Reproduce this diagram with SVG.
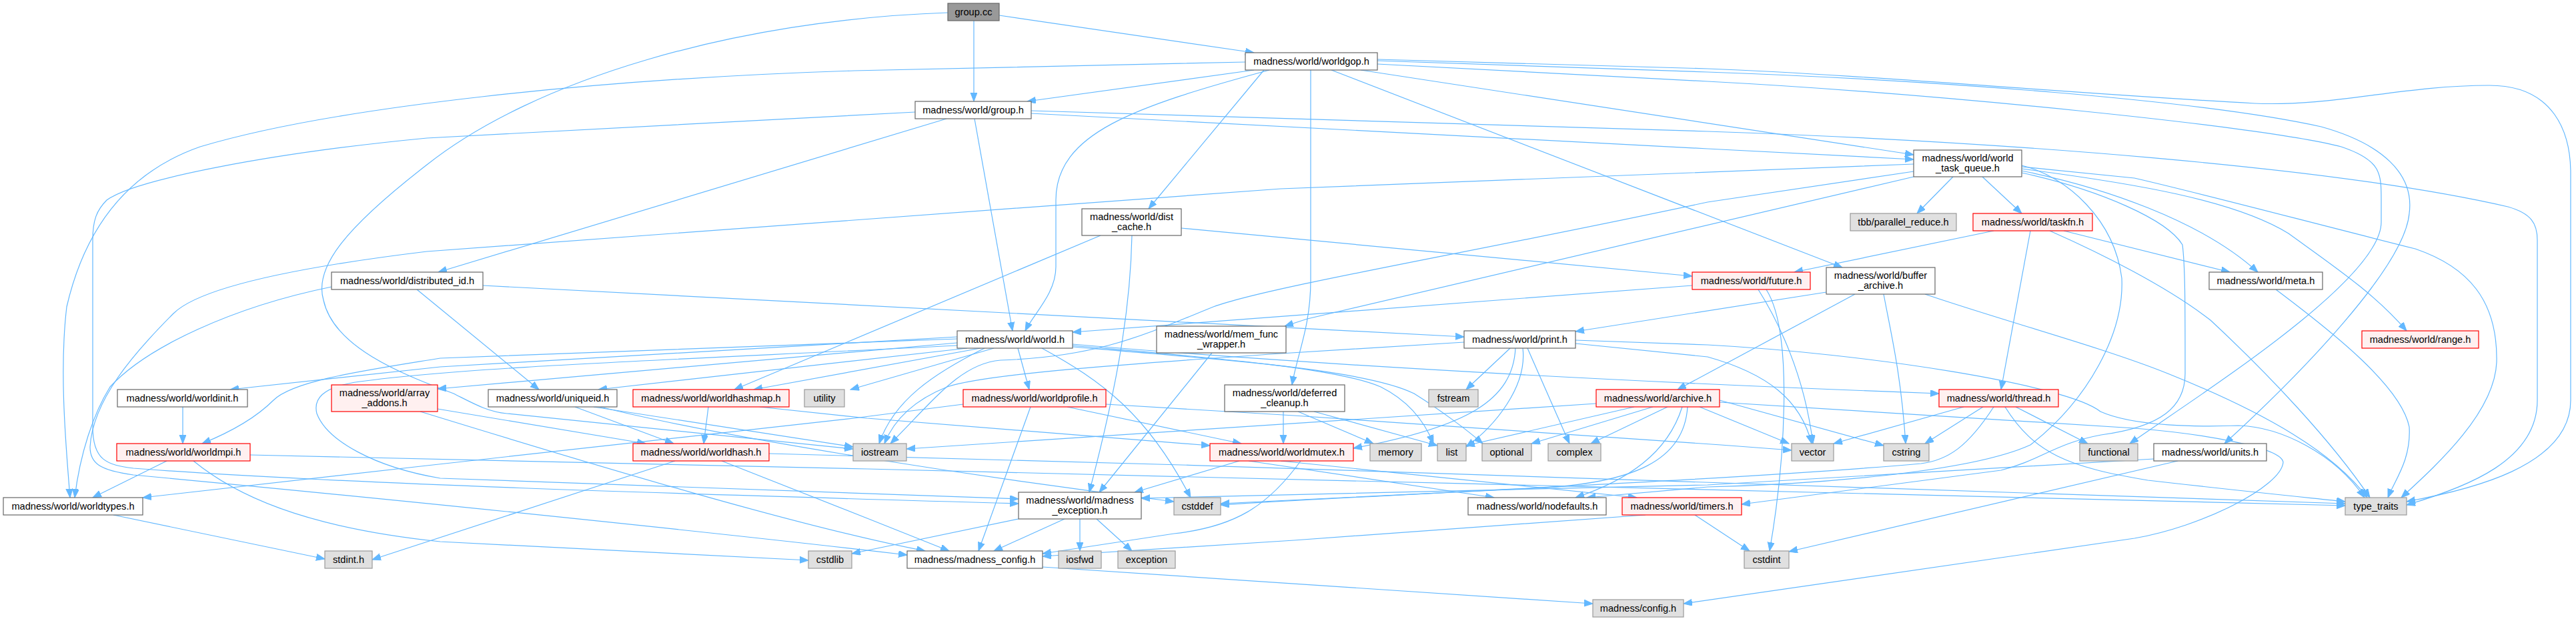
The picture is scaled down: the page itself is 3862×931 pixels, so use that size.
<svg xmlns="http://www.w3.org/2000/svg" width="3862" height="931" viewBox="0 0 3862 931">
<style>
text{font-family:"Liberation Sans",Arial,sans-serif;font-size:14.6px;text-anchor:middle;fill:#000}
.n rect{fill:#fff;stroke:#666;stroke-width:1.2}
.r rect{fill:#fff0f0;stroke:#f00;stroke-width:1.2}
.g rect{fill:#e0e0e0;stroke:#999;stroke-width:1.2}
.root rect{fill:#999;stroke:#666;stroke-width:1.2}
#edges path{fill:none;stroke:#63b8ff;stroke-width:1.2;marker-end:url(#a)}
</style>
<defs>
<marker id="a" markerUnits="userSpaceOnUse" markerWidth="14" markerHeight="11" refX="13" refY="5" orient="auto"><path d="M0,0 L13,5 L0,10 z" fill="#63b8ff" stroke="#63b8ff"/></marker>
</defs>
<rect width="3862" height="931" fill="#fff"/>
<g id="edges">
<path d="M1498,23 L1880,79"/>
<path d="M1460,31 L1460,152"/>
<path d="M1421,19 C1100,30 800,120 640,247 C520,340 470,400 485,450 C500,520 600,560 680,590 C710,605 730,617 760,620 L1279,673"/>
<path d="M1880,105 L1540,152"/>
<path d="M2040,105 L2869,232"/>
<path d="M1895,105 L1722,313"/>
<path d="M1867,93 L1280,106 C900,118 500,160 300,220 C200,255 130,330 100,460 C88,560 100,680 105,746"/>
<path d="M1965,105 L1965,420 C1965,490 1945,530 1937,577"/>
<path d="M1996,105 L2762,401"/>
<path d="M1903,105 C1700,160 1583,200 1583,300 L1583,400 C1583,440 1550,470 1537,496"/>
<path d="M2065,91 L2560,108 C2900,120 3300,150 3480,190 C3570,215 3620,260 3612,320 C3605,400 3450,560 3335,665"/>
<path d="M2065,96 L2560,122 C2900,140 3400,190 3510,220 C3570,240 3570,260 3570,300 L3570,333 C3570,420 3300,590 3193,665"/>
<path d="M2065,89 L2560,103 C2800,112 3100,140 3380,155 C3500,160 3600,128 3732,128 C3830,128 3854,200 3854,260 L3854,600 C3854,700 3700,735 3608,752"/>
<path d="M1546,166 L2560,197 C3000,212 3500,250 3760,310 C3795,320 3804,335 3804,360 L3804,600 C3804,690 3700,730 3608,757"/>
<path d="M1546,170 L2560,223 L2869,239"/>
<path d="M1419,178 L657,408"/>
<path d="M1461,178 L1518,496"/>
<path d="M1372,168 L640,207 C400,230 200,270 160,300 C145,315 139,330 139,360 L139,640 C139,690 160,697 200,702 C500,725 1000,740 1527,755"/>
<path d="M2928,265 L2874,320"/>
<path d="M2972,265 L3031,320"/>
<path d="M3031,256 C3150,280 3300,330 3385,408"/>
<path d="M3031,253 C3200,275 3350,300 3431,350 C3500,400 3560,440 3608,496"/>
<path d="M3031,250 L3200,267 C3300,290 3450,330 3621,373 C3700,400 3745,450 3743,543 C3740,620 3650,700 3600,746"/>
<path d="M3031,259 C3150,285 3250,330 3272,367 C3276,400 3276,450 3276,560 C3276,610 3240,640 3150,652 C3080,665 3060,690 3000,705 L2611,756"/>
<path d="M3031,248 C3100,265 3170,330 3181,417 C3185,500 3130,600 3044,667 C2950,710 2700,727 2560,730 L2379,746"/>
<path d="M2869,257 L2560,303 C2200,380 1900,430 1819,460 C1720,500 1650,535 1500,540 C1440,545 1400,600 1335,665"/>
<path d="M2869,265 L1960,478 L1926,489"/>
<path d="M2869,246 L1920,283 L640,377 C450,400 300,430 260,470 C200,530 139,600 135,670 C135,695 150,705 200,712 C500,740 1000,790 1360,832"/>
<path d="M2989,346 L2690,408"/>
<path d="M3044,346 L3000,584"/>
<path d="M3094,346 L3343,408"/>
<path d="M3073,346 C3150,380 3250,430 3314,480 C3400,560 3495,660 3553,746"/>
<path d="M1771,342 L2537,414"/>
<path d="M1650,353 L1101,584"/>
<path d="M1697,353 C1695,450 1680,560 1633,738"/>
<path d="M497,430 C350,460 220,520 165,580 C140,620 120,680 112,746"/>
<path d="M625,434 L808,584"/>
<path d="M724,428 L2195,505"/>
<path d="M2537,428 L1608,498"/>
<path d="M2636,434 C2665,480 2705,560 2718,665"/>
<path d="M2648,434 C2690,500 2675,700 2653,826"/>
<path d="M2781,441 L2515,584"/>
<path d="M2738,438 L2362,497"/>
<path d="M2824,441 C2835,500 2850,560 2857,665"/>
<path d="M2886,441 C3000,480 3150,520 3250,560 C3400,620 3500,680 3549,746"/>
<path d="M3412,434 C3500,500 3600,580 3612,640 C3615,690 3590,720 3580,746"/>
<path d="M1435,505 L660,550 L345,584"/>
<path d="M1435,508 C1100,520 800,530 660,537 C550,555 440,570 410,600 C380,630 340,650 303,665"/>
<path d="M1435,514 L656,583"/>
<path d="M1450,522 L897,584"/>
<path d="M1470,522 L1130,584"/>
<path d="M1490,522 L1275,584"/>
<path d="M1526,522 L1543,584"/>
<path d="M1476,522 C1400,560 1340,600 1318,665"/>
<path d="M1562,522 C1650,570 1720,620 1785,746"/>
<path d="M1608,516 C2000,550 2500,575 2907,590"/>
<path d="M1608,518 C1800,535 2000,550 2070,580 C2110,600 2135,630 2149,665"/>
<path d="M1608,520 C1850,540 2050,555 2120,590 C2160,615 2200,645 2223,665"/>
<path d="M1435,518 C1000,540 700,550 540,572 C480,580 470,600 475,620 C490,660 560,700 660,717 L1527,748"/>
<path d="M274,610 L274,665"/>
<path d="M250,691 L139,746"/>
<path d="M290,691 C350,740 450,790 660,812 L1212,840"/>
<path d="M375,682 L1300,703 C2000,720 3000,745 3516,758"/>
<path d="M656,613 L968,665"/>
<path d="M630,617 C900,700 1200,790 1387,826"/>
<path d="M862,610 L1010,665"/>
<path d="M890,610 L1279,670"/>
<path d="M900,610 C1100,660 1500,720 1760,752"/>
<path d="M1062,610 L1055,665"/>
<path d="M1139,610 L1300,627 L1814,668"/>
<path d="M1012,691 L558,839"/>
<path d="M1082,691 L1300,777 L1423,826"/>
<path d="M1153,680 C2000,700 3000,740 3516,755"/>
<path d="M1600,610 L1861,665"/>
<path d="M1545,610 L1467,826"/>
<path d="M1444,606 L1280,627 L640,698 L214,746"/>
<path d="M1658,606 L1940,623 L2580,667 L2686,675"/>
<path d="M1924,617 L1924,665"/>
<path d="M1946,617 L2059,665"/>
<path d="M1970,617 L2155,668"/>
<path d="M2264,522 L2198,584"/>
<path d="M2272,522 C2268,600 2200,640 2029,672"/>
<path d="M2283,522 C2290,580 2240,640 2198,670"/>
<path d="M2290,522 L2353,665"/>
<path d="M2362,510 L2560,517 C2800,530 3100,577 3149,617 C3200,640 3300,640 3356,638 C3420,640 3500,680 3545,746"/>
<path d="M2362,515 L2560,535 C2650,560 2700,600 2716,665"/>
<path d="M2195,513 L1920,530 C1700,545 1480,560 1420,580 C1370,600 1340,630 1326,665"/>
<path d="M2393,605 L1359,673"/>
<path d="M2450,610 L2198,668"/>
<path d="M2478,610 L2296,665"/>
<path d="M2500,610 L2385,665"/>
<path d="M2522,610 C2500,680 2440,720 2362,746"/>
<path d="M2530,610 C2525,690 2450,725 2300,732 L1830,755"/>
<path d="M2548,610 L2682,665"/>
<path d="M2578,600 L2824,668"/>
<path d="M2578,603 L3200,642 C3300,650 3420,670 3423,693 C3420,730 3300,790 3200,807 L2524,905"/>
<path d="M2944,610 L2749,665"/>
<path d="M2973,610 L2886,665"/>
<path d="M3022,610 L3130,665"/>
<path d="M3006,610 C3050,680 3100,700 3220,720 C3350,735 3450,745 3516,752"/>
<path d="M2989,610 C2950,670 2920,690 2880,695 C2600,720 2000,745 1830,757"/>
<path d="M1858,691 L1701,738"/>
<path d="M1872,691 L2240,746"/>
<path d="M1920,691 L2454,746"/>
<path d="M1950,691 C1900,760 1850,790 1760,800 L1563,830"/>
<path d="M2467,772 L1940,810 L1563,834"/>
<path d="M2541,772 L2623,826"/>
<path d="M1596,778 L1490,826"/>
<path d="M1619,778 L1619,826"/>
<path d="M1644,778 L1697,826"/>
<path d="M1527,778 L1277,830"/>
<path d="M1563,850 L2388,905"/>
<path d="M1817,529 L1648,738"/>
<path d="M3265,691 L2682,827"/>
<path d="M3229,688 L2560,727 L1711,747"/>
<path d="M170,772 L487,838"/>
</g>
<g id="group_cc" class="root"><rect x="1421" y="5" width="77" height="26"/><text x="1459.5" y="23">group.cc</text></g>
<g id="worldgop" class="n"><rect x="1867" y="79" width="198" height="26"/><text x="1966" y="97">madness/world/worldgop.h</text></g>
<g id="group_h" class="n"><rect x="1372" y="152" width="174" height="26"/><text x="1459" y="170">madness/world/group.h</text></g>
<g id="world_task_queue" class="n"><rect x="2869" y="225" width="162" height="40"/><text x="2950" y="242">madness/world/world</text><text x="2950" y="257">_task_queue.h</text></g>
<g id="dist_cache" class="n"><rect x="1622" y="313" width="149" height="40"/><text x="1696.5" y="330">madness/world/dist</text><text x="1696.5" y="345">_cache.h</text></g>
<g id="tbb" class="g"><rect x="2774" y="320" width="159" height="26"/><text x="2853.5" y="338">tbb/parallel_reduce.h</text></g>
<g id="taskfn" class="r"><rect x="2958" y="320" width="179" height="26"/><text x="3047.5" y="338">madness/world/taskfn.h</text></g>
<g id="distributed_id" class="n"><rect x="497" y="408" width="227" height="26"/><text x="610.5" y="426">madness/world/distributed_id.h</text></g>
<g id="future" class="r"><rect x="2537" y="408" width="177" height="26"/><text x="2625.5" y="426">madness/world/future.h</text></g>
<g id="buffer_archive" class="n"><rect x="2738" y="401" width="163" height="40"/><text x="2819.5" y="418">madness/world/buffer</text><text x="2819.5" y="433">_archive.h</text></g>
<g id="meta" class="n"><rect x="3312" y="408" width="170" height="26"/><text x="3397" y="426">madness/world/meta.h</text></g>
<g id="world_h" class="n"><rect x="1435" y="496" width="173" height="26"/><text x="1521.5" y="514">madness/world/world.h</text></g>
<g id="mem_func_wrapper" class="n"><rect x="1734" y="489" width="194" height="40"/><text x="1831" y="506">madness/world/mem_func</text><text x="1831" y="521">_wrapper.h</text></g>
<g id="print" class="n"><rect x="2195" y="496" width="167" height="26"/><text x="2278.5" y="514">madness/world/print.h</text></g>
<g id="range" class="r"><rect x="3541" y="496" width="175" height="26"/><text x="3628.5" y="514">madness/world/range.h</text></g>
<g id="worldinit" class="n"><rect x="176" y="584" width="195" height="26"/><text x="273.5" y="602">madness/world/worldinit.h</text></g>
<g id="array_addons" class="r"><rect x="497" y="577" width="159" height="40"/><text x="576.5" y="594">madness/world/array</text><text x="576.5" y="609">_addons.h</text></g>
<g id="uniqueid" class="n"><rect x="732" y="584" width="193" height="26"/><text x="828.5" y="602">madness/world/uniqueid.h</text></g>
<g id="worldhashmap" class="r"><rect x="949" y="584" width="234" height="26"/><text x="1066" y="602">madness/world/worldhashmap.h</text></g>
<g id="utility" class="g"><rect x="1206" y="584" width="60" height="26"/><text x="1236" y="602">utility</text></g>
<g id="worldprofile" class="r"><rect x="1444" y="584" width="214" height="26"/><text x="1551" y="602">madness/world/worldprofile.h</text></g>
<g id="deferred_cleanup" class="n"><rect x="1836" y="577" width="180" height="40"/><text x="1926" y="594">madness/world/deferred</text><text x="1926" y="609">_cleanup.h</text></g>
<g id="fstream" class="g"><rect x="2142" y="584" width="74" height="26"/><text x="2179" y="602">fstream</text></g>
<g id="archive" class="r"><rect x="2393" y="584" width="185" height="26"/><text x="2485.5" y="602">madness/world/archive.h</text></g>
<g id="thread" class="r"><rect x="2907" y="584" width="179" height="26"/><text x="2996.5" y="602">madness/world/thread.h</text></g>
<g id="worldmpi" class="r"><rect x="175" y="665" width="200" height="26"/><text x="275" y="683">madness/world/worldmpi.h</text></g>
<g id="worldhash" class="r"><rect x="949" y="665" width="204" height="26"/><text x="1051" y="683">madness/world/worldhash.h</text></g>
<g id="iostream" class="g"><rect x="1279" y="665" width="80" height="26"/><text x="1319" y="683">iostream</text></g>
<g id="worldmutex" class="r"><rect x="1814" y="665" width="215" height="26"/><text x="1921.5" y="683">madness/world/worldmutex.h</text></g>
<g id="memory" class="g"><rect x="2054" y="665" width="77" height="26"/><text x="2092.5" y="683">memory</text></g>
<g id="list" class="g"><rect x="2155" y="665" width="43" height="26"/><text x="2176.5" y="683">list</text></g>
<g id="optional" class="g"><rect x="2222" y="665" width="74" height="26"/><text x="2259" y="683">optional</text></g>
<g id="complex" class="g"><rect x="2321" y="665" width="79" height="26"/><text x="2360.5" y="683">complex</text></g>
<g id="vector" class="g"><rect x="2686" y="665" width="63" height="26"/><text x="2717.5" y="683">vector</text></g>
<g id="cstring" class="g"><rect x="2824" y="665" width="68" height="26"/><text x="2858" y="683">cstring</text></g>
<g id="functional" class="g"><rect x="3118" y="665" width="87" height="26"/><text x="3161.5" y="683">functional</text></g>
<g id="units" class="n"><rect x="3229" y="665" width="169" height="26"/><text x="3313.5" y="683">madness/world/units.h</text></g>
<g id="worldtypes" class="n"><rect x="5" y="746" width="209" height="26"/><text x="109.5" y="764">madness/world/worldtypes.h</text></g>
<g id="madness_exception" class="n"><rect x="1527" y="738" width="184" height="40"/><text x="1619" y="755">madness/world/madness</text><text x="1619" y="770">_exception.h</text></g>
<g id="cstddef" class="g"><rect x="1760" y="746" width="70" height="26"/><text x="1795" y="764">cstddef</text></g>
<g id="nodefaults" class="n"><rect x="2201" y="746" width="207" height="26"/><text x="2304.5" y="764">madness/world/nodefaults.h</text></g>
<g id="timers" class="r"><rect x="2432" y="746" width="179" height="26"/><text x="2521.5" y="764">madness/world/timers.h</text></g>
<g id="type_traits" class="g"><rect x="3516" y="746" width="92" height="26"/><text x="3562" y="764">type_traits</text></g>
<g id="stdint" class="g"><rect x="487" y="826" width="71" height="26"/><text x="522.5" y="844">stdint.h</text></g>
<g id="cstdlib" class="g"><rect x="1212" y="826" width="65" height="26"/><text x="1244.5" y="844">cstdlib</text></g>
<g id="madness_config" class="n"><rect x="1360" y="826" width="203" height="26"/><text x="1461.5" y="844">madness/madness_config.h</text></g>
<g id="iosfwd" class="g"><rect x="1587" y="826" width="64" height="26"/><text x="1619" y="844">iosfwd</text></g>
<g id="exception" class="g"><rect x="1676" y="826" width="86" height="26"/><text x="1719" y="844">exception</text></g>
<g id="cstdint" class="g"><rect x="2615" y="826" width="67" height="26"/><text x="2648.5" y="844">cstdint</text></g>
<g id="config" class="g"><rect x="2388" y="899" width="136" height="26"/><text x="2456" y="917">madness/config.h</text></g>
</svg>
